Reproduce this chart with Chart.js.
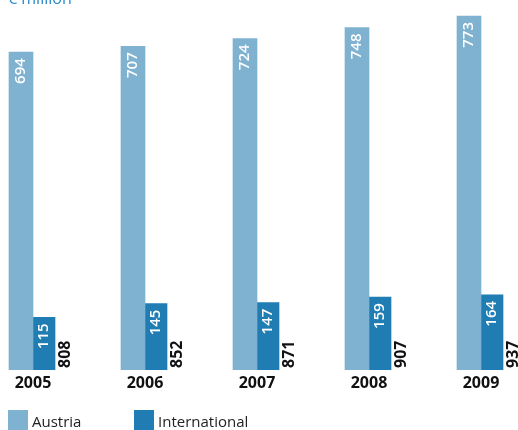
<!DOCTYPE html>
<html>
<head>
<meta charset="utf-8">
<script src="https://cdn.jsdelivr.net/npm/chart.js@4"></script>
<style>
  html, body { margin: 0; padding: 0; background: #fff; }
  #wrap { width: 518px; height: 430px; position: relative; }
</style>
</head>
<body>
<div id="wrap"><canvas id="chart"></canvas></div>
<script>
const years = [2005, 2006, 2007, 2008, 2009];
const austria = [694, 707, 724, 748, 773];
const international = [115, 145, 147, 159, 164];
const totals = [808, 852, 871, 907, 937];

const FONT = '"Open Sans", "DejaVu Sans", sans-serif';

// value labels inside the bars and group totals next to them
const barLabels = {
  id: 'barLabels',
  afterDatasetsDraw(chart) {
    const ctx = chart.ctx;
    ctx.save();
    ctx.font = '600 15px ' + FONT;
    chart.data.datasets.forEach((ds, di) => {
      chart.getDatasetMeta(di).data.forEach((el, i) => {
        ctx.save();
        ctx.translate(el.x, el.y + 6);
        ctx.rotate(-Math.PI / 2);
        ctx.fillStyle = '#fff';
        ctx.textAlign = 'right';
        ctx.textBaseline = 'middle';
        ctx.fillText(String(ds.data[i]), 0, 0);
        ctx.restore();
      });
    });
    ctx.font = 'bold 16px ' + FONT;
    const intl = chart.getDatasetMeta(1).data;
    intl.forEach((el, i) => {
      ctx.save();
      ctx.translate(el.x + el.width / 2 + 10, el.base - 2);
      ctx.rotate(-Math.PI / 2);
      ctx.fillStyle = '#111';
      ctx.textAlign = 'left';
      ctx.textBaseline = 'middle';
      ctx.fillText(String(totals[i]), 0, 0);
      ctx.restore();
    });
    ctx.restore();
  }
};

// unit caption and legend
const extras = {
  id: 'extras',
  afterDraw(chart) {
    const ctx = chart.ctx;
    ctx.save();
    ctx.font = '16px ' + FONT;
    ctx.fillStyle = '#2b8ac6';
    ctx.textBaseline = 'alphabetic';
    ctx.textAlign = 'left';
    ctx.fillText('€ million', 8, 4);

    const xs = [8, 134];
    chart.data.datasets.forEach((ds, i) => {
      ctx.fillStyle = ds.backgroundColor;
      ctx.fillRect(xs[i], 410, 20, 20);
      ctx.fillStyle = '#222';
      ctx.font = '15px ' + FONT;
      ctx.textBaseline = 'middle';
      ctx.fillText(ds.label, xs[i] + 24, 423);
    });
    ctx.restore();
  }
};

new Chart(document.getElementById('chart'), {
  type: 'bar',
  data: {
    labels: years,
    datasets: [
      { label: 'Austria', data: austria, backgroundColor: '#7fb2d0', barThickness: 24 },
      { label: 'International', data: international, backgroundColor: '#1f7db3', barThickness: 22 }
    ]
  },
  options: {
    responsive: true,
    maintainAspectRatio: false,
    animation: false,
    layout: { padding: 0 },
    plugins: { legend: { display: false }, tooltip: { enabled: false } },
    scales: {
      x: {
        type: 'linear',
        offset: false,
        min: 2005 - 33 / 112,
        max: 2005 + (518 - 33) / 112,
        grid: { display: false, drawTicks: false, offset: false },
        border: { display: false },
        afterBuildTicks: axis => { axis.ticks = years.map(v => ({ value: v })); },
        afterFit: axis => { axis.height = 60; },
        ticks: {
          padding: 4,
          color: '#111',
          font: { family: FONT, size: 16, weight: 'bold' },
          callback: v => String(v)
        }
      },
      y: {
        display: false,
        min: 0,
        max: 808
      }
    }
  },
  plugins: [barLabels, extras]
});
</script>
</body>
</html>
